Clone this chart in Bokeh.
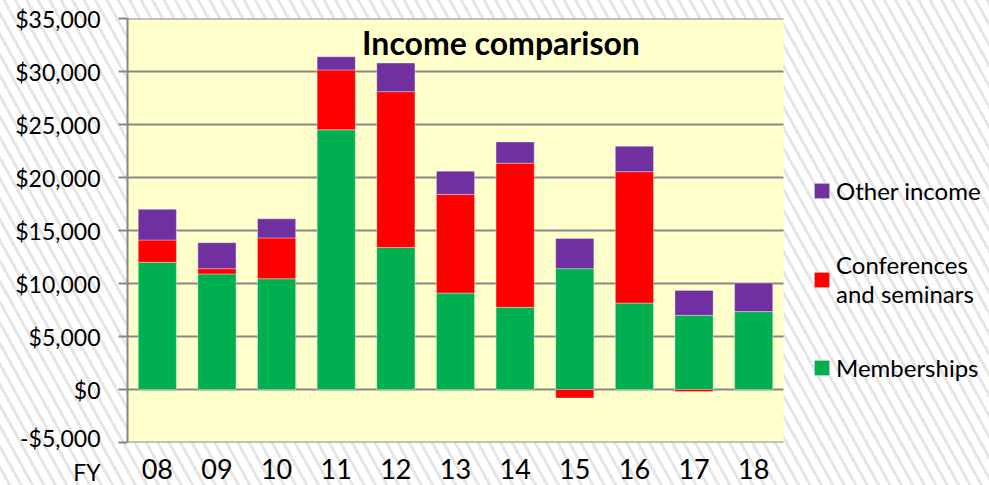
from bokeh.plotting import figure
from bokeh.models import (ColumnDataSource, Range1d, NumeralTickFormatter,
                          FixedTicker, Label, Legend, LegendItem, InlineStyleSheet)
from bokeh.embed import file_html
from bokeh.resources import INLINE

# ---------------- data ----------------
years = ["08", "09", "10", "11", "12", "13", "14", "15", "16", "17", "18"]
memberships = [12000, 10900, 10450, 24500, 13400, 9100, 7750, 11400, 8150, 7000, 7350]
conferences = [2100, 500, 3850, 5650, 14700, 9300, 13600, -800, 12400, -200, 0]
other_income = [2900, 2450, 1800, 1250, 2700, 2200, 2000, 2850, 2400, 2350, 2700]
series_labels = ["Memberships", "Conferences\nand seminars", "Other income"]
series_colors = ["#00B050", "#FF0000", "#7030A0"]
y_ticks = [-5000, 0, 5000, 10000, 15000, 20000, 25000, 30000, 35000]
title_text = "Income comparison"
fy_text = "FY"

FONT = "Lato"
GRAY = "#878787"
YELLOW = "#FFFFCC"

n = len(years)
x_pos = [i + 0.5 for i in range(n)]          # category centres on a numeric axis
# the frame also covers the legend area to the right of the plot area (656 px of 862 px)
x_end = n * 862 / 656

p = figure(x_range=Range1d(0, x_end), y_range=Range1d(y_ticks[0], y_ticks[-1]),
           width=989, height=485, output_backend="svg", toolbar_location=None,
           min_border_left=127, min_border_right=0, min_border_top=18, min_border_bottom=43)
p.stylesheets = [InlineStyleSheet(css="""
:host {
  background: repeating-linear-gradient(61deg, #ffffff 0px, #ffffff 7px, #e6e6e6 7px, #e6e6e6 10px);
}
""")]
p.border_fill_color = None
p.background_fill_color = None
p.outline_line_color = None
p.xgrid.grid_line_color = None
p.ygrid.grid_line_color = None

# plot area background and horizontal grid lines (only over the categories)
p.quad(left=[0], right=[n], bottom=[y_ticks[0]], top=[y_ticks[-1]],
       fill_color=YELLOW, line_color=None)
p.segment(x0=[0] * len(y_ticks), x1=[n] * len(y_ticks), y0=y_ticks, y1=y_ticks,
          line_color=GRAY, line_width=2)

# stacked bars: positive values stack upward, negative values downward from zero
pos_base = [0.0] * n
neg_base = [0.0] * n
renderers = []
for vals, color in zip([memberships, conferences, other_income], series_colors):
    xs, bots, tops = [], [], []
    for i, v in enumerate(vals):
        if v >= 0:
            b, t = pos_base[i], pos_base[i] + v
            pos_base[i] = t
        else:
            t, b = neg_base[i], neg_base[i] + v
            neg_base[i] = b
        if v != 0:
            xs.append(x_pos[i]); bots.append(b); tops.append(t)
    src = ColumnDataSource(dict(x=xs, bottom=bots, top=tops))
    r = p.vbar(x="x", bottom="bottom", top="top", width=0.64, source=src,
               fill_color=color, line_color="white", line_alpha=0.35, line_width=1)
    renderers.append(r)

# y axis
p.yaxis.ticker = FixedTicker(ticks=y_ticks)
p.yaxis.formatter = NumeralTickFormatter(format="$0,0")
# the bottom tick label also carries the "FY" prefix of the category axis on a line below it
p.yaxis.major_label_overrides = {y_ticks[0]: "\n-$5,000\n" + fy_text}
p.yaxis.axis_line_color = GRAY
p.yaxis.axis_line_width = 2
p.yaxis.major_tick_line_color = GRAY
p.yaxis.major_tick_line_width = 2
p.yaxis.major_tick_out = 9
p.yaxis.major_tick_in = 0
p.yaxis.minor_tick_line_color = None
p.yaxis.major_label_standoff = 18
p.yaxis.major_label_text_font = FONT
p.yaxis.major_label_text_font_size = "23px"
p.yaxis.major_label_text_color = "#000000"

# x axis: category labels at the bar centres
p.xaxis.ticker = FixedTicker(ticks=x_pos)
p.xaxis.major_label_overrides = {xp: yr for xp, yr in zip(x_pos, years)}
p.xaxis.axis_line_color = None
p.xaxis.major_tick_line_color = None
p.xaxis.minor_tick_line_color = None
p.xaxis.major_label_standoff = 10
p.xaxis.major_label_text_font = FONT
p.xaxis.major_label_text_font_size = "27px"
p.xaxis.major_label_text_color = "#000000"

# title (inside the plot area, above the tallest bars)
p.add_layout(Label(x=373.5, y=420, x_units="screen", y_units="screen", text=title_text,
                   text_align="center", text_baseline="top", text_font=FONT,
                   text_font_style="bold", text_font_size="32px", text_color="#000000"))

lg = Legend(items=[LegendItem(label=series_labels[2], renderers=[renderers[2]]),
                   LegendItem(label=series_labels[1], renderers=[renderers[1]]),
                   LegendItem(label=series_labels[0], renderers=[renderers[0]])],
            location=(685, 60), border_line_color=None, background_fill_alpha=0,
            padding=0, margin=0, spacing=45,
            glyph_width=19, glyph_height=19, label_standoff=5, label_height=28,
            label_text_font=FONT, label_text_font_size="24px",
            label_text_color="#000000")
p.add_layout(lg)

open("out.html", "w").write(file_html(p, INLINE))
